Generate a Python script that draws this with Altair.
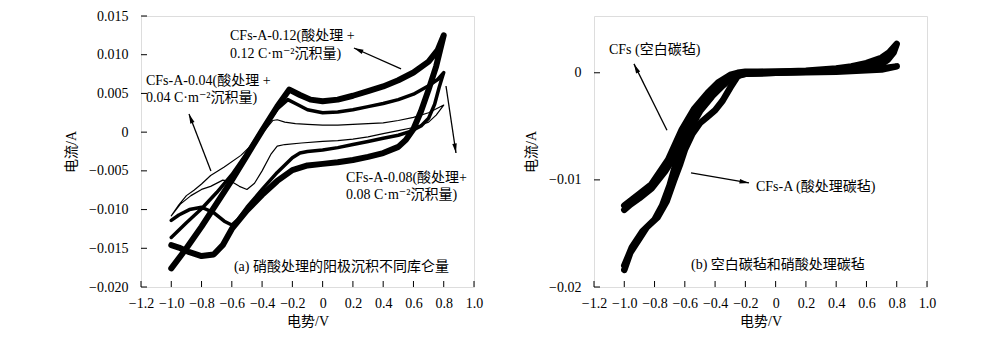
import altair as alt
import pandas as pd

FONT = "Liberation Serif, DejaVu Serif, Noto Sans CJK SC"

# ---------------- panel (a) data: three CV loops (scan path order) ----------------
a12_x = [-1.0, -0.9, -0.8, -0.7, -0.6, -0.5, -0.4, -0.3, -0.22, -0.15, -0.08, 0.0, 0.1, 0.2, 0.3, 0.4, 0.5, 0.6, 0.7, 0.76, 0.8,
         0.75, 0.7, 0.65, 0.6, 0.55, 0.5, 0.4, 0.3, 0.2, 0.1, 0.0, -0.1, -0.2, -0.3, -0.4, -0.5, -0.6, -0.66, -0.72, -0.8, -0.88, -0.95, -1.0]
a12_y = [-0.0176, -0.0150, -0.0122, -0.0092, -0.0062, -0.0030, 0.0002, 0.0033, 0.0055, 0.0048, 0.0042, 0.0040, 0.0042, 0.0047, 0.0053, 0.0059, 0.0067, 0.0077, 0.0091, 0.0106, 0.0125,
         0.0085, 0.0055, 0.0027, 0.0004, -0.0010, -0.0019, -0.0027, -0.0032, -0.0036, -0.0039, -0.0041, -0.0043, -0.0049, -0.0063, -0.0081, -0.0101, -0.0125, -0.0146, -0.0158, -0.0160, -0.0155, -0.0149, -0.0146]

a08_x = [-1.0, -0.9, -0.8, -0.7, -0.6, -0.5, -0.4, -0.3, -0.23, -0.17, -0.1, 0.0, 0.1, 0.2, 0.3, 0.4, 0.5, 0.6, 0.7, 0.76, 0.8,
         0.77, 0.74, 0.7, 0.65, 0.58, 0.5, 0.4, 0.3, 0.2, 0.1, 0.0, -0.1, -0.15, -0.2, -0.3, -0.4, -0.5, -0.56, -0.6, -0.65, -0.72, -0.8, -0.88, -0.95, -1.0]
a08_y = [-0.0136, -0.0117, -0.0099, -0.0078, -0.0055, -0.0027, 0.0003, 0.0030, 0.0042, 0.0036, 0.0029, 0.0025, 0.0026, 0.0029, 0.0033, 0.0037, 0.0042, 0.0049, 0.0060, 0.0068, 0.0077,
         0.0058, 0.0036, 0.0018, 0.0008, 0.0001, -0.0004, -0.0008, -0.0012, -0.0016, -0.0020, -0.0023, -0.0025, -0.0027, -0.0033, -0.0052, -0.0074, -0.0097, -0.0113, -0.0120, -0.0115, -0.0104, -0.0097, -0.0100, -0.0107, -0.0114]

a04_x = [-1.0, -0.95, -0.9, -0.85, -0.8, -0.74, -0.65, -0.54, -0.45, -0.38, -0.33, -0.3, -0.25, -0.18, -0.1, 0.0, 0.1, 0.2, 0.3, 0.4, 0.5, 0.6, 0.7, 0.8,
         0.75, 0.7, 0.6, 0.5, 0.4, 0.3, 0.2, 0.1, 0.0, -0.14, -0.25, -0.3, -0.34, -0.4, -0.45, -0.5, -0.55, -0.6, -0.66, -0.74, -0.8, -0.87, -0.94, -1.0]
a04_y = [-0.0108, -0.0094, -0.0082, -0.0075, -0.0067, -0.0056, -0.0045, -0.0030, -0.0013, 0.0003, 0.0015, 0.0016, 0.0013, 0.0011, 0.0010, 0.0009, 0.0009, 0.0010, 0.0011, 0.0012, 0.0015, 0.0019, 0.0025, 0.0035,
         0.0022, 0.0013, 0.0006, 0.0002, -0.0002, -0.0006, -0.0009, -0.0011, -0.0012, -0.0014, -0.0016, -0.0018, -0.0028, -0.0050, -0.0066, -0.0074, -0.0070, -0.0064, -0.0062, -0.0070, -0.0074, -0.0082, -0.0093, -0.0108]

# ---------------- panel (b) data ----------------
b_cfs_x = [-1.0, -0.9, -0.82, -0.71, -0.62, -0.54, -0.45, -0.38, -0.3, -0.25, -0.2, -0.1, 0.0, 0.2, 0.4, 0.5, 0.6, 0.7, 0.75, 0.8,
           0.78, 0.74, 0.7, 0.6, 0.4, 0.2, 0.0, -0.2, -0.28, -0.35, -0.42, -0.5, -0.58, -0.65, -0.73, -0.82, -0.9, -0.96, -1.0]
b_cfs_y = [-0.0124, -0.0113, -0.0104, -0.0081, -0.0053, -0.0034, -0.0019, -0.0009, -0.0002, 0.0, 0.0001, 0.0001, 0.0001, 0.0002, 0.0004, 0.0006, 0.0009, 0.0014, 0.0019, 0.0027,
           0.0019, 0.0012, 0.0008, 0.0004, 0.0002, 0.0001, 0.0, -0.0001, -0.0004, -0.0012, -0.0022, -0.0036, -0.0056, -0.0074, -0.0092, -0.0108, -0.0117, -0.0123, -0.0128]

b_cfsa_x = [-1.0, -0.96, -0.9, -0.85, -0.78, -0.72, -0.67, -0.63, -0.6, -0.55, -0.5, -0.45, -0.4, -0.35, -0.3, -0.25, -0.2, 0.0, 0.4, 0.6, 0.7, 0.8,
            0.7, 0.4, 0.0, -0.2, -0.25, -0.3, -0.35, -0.4, -0.45, -0.5, -0.55, -0.6, -0.65, -0.7, -0.75, -0.8, -0.88, -0.95, -1.0]
b_cfsa_y = [-0.0184, -0.0168, -0.0155, -0.0144, -0.0135, -0.0120, -0.0100, -0.0085, -0.0072, -0.0057, -0.0047, -0.0041, -0.0035, -0.0026, -0.0014, -0.0003, 0.0, 0.0001, 0.0002, 0.0003, 0.0004, 0.0006,
            0.0003, 0.0001, 0.0, -0.0001, -0.0002, -0.0004, -0.0008, -0.0014, -0.0022, -0.0032, -0.0044, -0.0060, -0.0080, -0.0105, -0.0124, -0.0137, -0.0148, -0.0163, -0.0180]

# tick values
x_ticks = [-1.2, -1.0, -0.8, -0.6, -0.4, -0.2, 0.0, 0.2, 0.4, 0.6, 0.8, 1.0]
ya_ticks = [-0.020, -0.015, -0.010, -0.005, 0.0, 0.005, 0.010, 0.015]
yb_ticks = [-0.02, -0.01, 0.0]

# annotations (data coordinates)
a_texts = pd.DataFrame({
    "x": [-0.612, -0.612, -1.167, -1.167, 0.154, 0.154, -0.586],
    "y": [0.01242, 0.01009, 0.00661, 0.00441, -0.00592, -0.00812, -0.01742],
    "t": ["CFs-A-0.12(酸处理 +", "0.12 C·m⁻²沉积量)", "CFs-A-0.04(酸处理 +", "0.04 C·m⁻²沉积量)",
          "CFs-A-0.08(酸处理+", "0.08 C·m⁻²沉积量)", "(a) 硝酸处理的阳极沉积不同库仑量"],
})
a_arrows = pd.DataFrame({
    "x": [0.518, -0.738, 0.815], "y": [0.00816, -0.00502, 0.00596],
    "x2": [0.207, -0.883, 0.881], "y2": [0.01087, 0.00234, -0.00269],
    "ang": [294, 339, 171],
})
b_texts = pd.DataFrame({
    "x": [-1.101, -0.130, -0.559],
    "y": [0.00213, -0.01065, -0.01796],
    "t": ["CFs (空白碳毡)", "CFs-A (酸处理碳毡)", "(b) 空白碳毡和硝酸处理碳毡"],
})
b_arrows = pd.DataFrame({
    "x": [-0.718, -0.559], "y": [-0.00537, -0.00935],
    "x2": [-0.936, -0.176], "y2": [0.00083, -0.01028],
    "ang": [334, 100],
})

W, H = 333, 271
ARROW_SHAPE = "M0,0L-0.45,1.9L0.45,1.9Z"


def path_df(xs, ys):
    return pd.DataFrame({"x": xs, "y": ys, "o": list(range(len(xs)))})


def build_panel(series, yscale, yticks, yfmt, texts, arrows):
    xscale = alt.Scale(domain=[-1.2, 1.0], nice=False, zero=False)
    xaxis = alt.Axis(title="电势/V", values=x_ticks, ticks=False, domain=False, grid=False,
                     labelExpr="abs(datum.value) < 1e-9 ? '0' : format(datum.value, '.1f')",
                     labelFont=FONT, labelFontSize=14, labelColor="black", labelPadding=9,
                     labelFlush=False, titleFont=FONT, titleFontSize=14, titleFontWeight="normal",
                     titleColor="black", titlePadding=4)
    yaxis = alt.Axis(title="电流/A", values=yticks, ticks=False, domain=False, grid=False,
                     labelExpr="abs(datum.value) < 1e-9 ? '0' : format(datum.value, '" + yfmt + "')",
                     labelFont=FONT, labelFontSize=14, labelColor="black", labelPadding=13,
                     labelFlush=False, titleFont=FONT, titleFontSize=14, titleFontWeight="normal",
                     titleColor="black", titlePadding=10)

    def X(f):
        return alt.X(f, scale=xscale, axis=xaxis)

    def Y(f):
        return alt.Y(f, scale=yscale, axis=yaxis)

    layers = []
    for xs, ys, w in series:
        layers.append(alt.Chart(path_df(xs, ys)).mark_line(
            color="black", strokeWidth=w, strokeCap="round", strokeJoin="round").encode(
            x=X("x:Q"), y=Y("y:Q"), order="o:Q"))
    # inward ticks
    xt = pd.DataFrame({"v": x_ticks})
    yt = pd.DataFrame({"v": yticks})
    layers.append(alt.Chart(xt).mark_rule(color="black", strokeWidth=1).encode(
        x=X("v:Q"), y=alt.value(H), y2=alt.value(H - 6)))
    layers.append(alt.Chart(yt).mark_rule(color="black", strokeWidth=1).encode(
        y=Y("v:Q"), x=alt.value(0), x2=alt.value(6)))
    # arrows
    layers.append(alt.Chart(arrows).mark_rule(color="black", strokeWidth=1.3).encode(
        x=X("x:Q"), y=Y("y:Q"), x2="x2:Q", y2="y2:Q"))
    layers.append(alt.Chart(arrows).mark_point(shape=ARROW_SHAPE, filled=True, size=100,
                                               color="black", opacity=1, strokeWidth=0).encode(
        x=X("x2:Q"), y=Y("y2:Q"), angle=alt.Angle("ang:Q", scale=None)))
    # texts
    layers.append(alt.Chart(texts).mark_text(align="left", baseline="middle", font=FONT,
                                             fontSize=14, color="black").encode(
        x=X("x:Q"), y=Y("y:Q"), text="t:N"))
    return alt.layer(*layers).properties(width=W, height=H)


left = build_panel(
    [(a12_x, a12_y, 6.0), (a08_x, a08_y, 3.5), (a04_x, a04_y, 1.2)],
    alt.Scale(domain=[-0.020, 0.015], nice=False, zero=False), ya_ticks, ".3f", a_texts, a_arrows)
right = build_panel(
    [(b_cfs_x, b_cfs_y, 6.5), (b_cfsa_x, b_cfsa_y, 6.5)],
    alt.Scale(domain=[-0.020, 0.0053], nice=False, zero=False), yb_ticks, ".2f", b_texts, b_arrows)

chart = alt.hconcat(left, right, spacing=120, bounds="flush").properties(
    padding={"left": 64, "top": 8, "right": 50, "bottom": 8}
).configure_view(stroke="#222", strokeWidth=1.3).configure(background="white")

chart.save("out.html", embed_options={"renderer": "svg", "actions": False})
